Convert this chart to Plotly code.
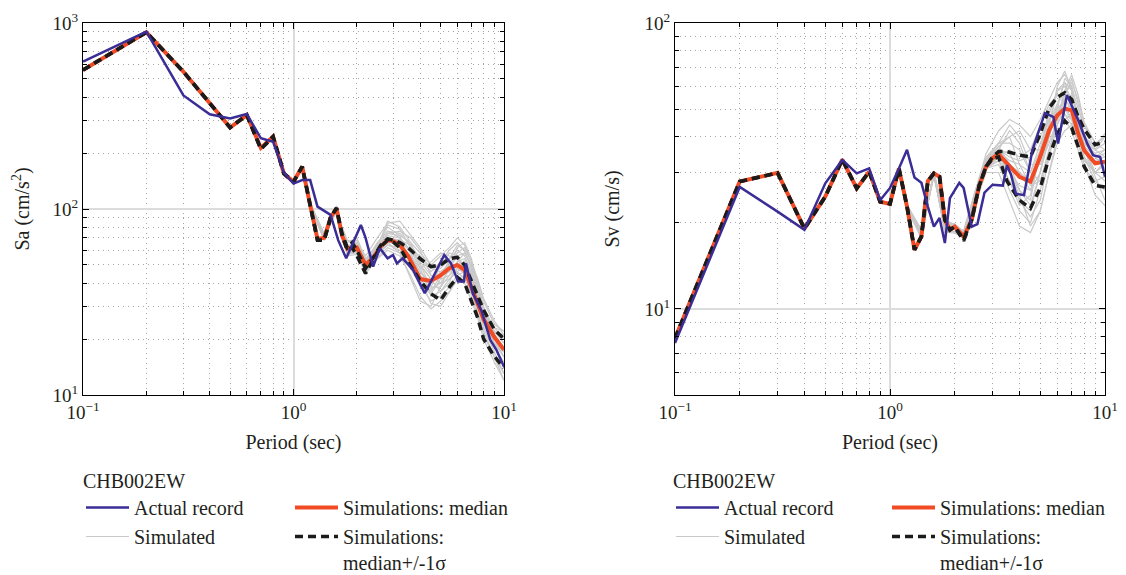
import plotly.graph_objects as go

FONT = "Liberation Serif"
TXT = "#231f20"

# ---------------- data ----------------
T = [0.1, 0.2, 0.3, 0.4, 0.5, 0.6, 0.7, 0.8, 0.9, 1.0, 1.1, 1.2, 1.3, 1.4, 1.5, 1.6, 1.7, 1.8, 1.9, 2.0,
     2.2, 2.4, 2.6, 2.8, 3.0, 3.2, 3.5, 4.0, 4.5, 5.0, 5.5, 6.0, 6.5, 7.0, 7.5, 8.0, 9.0, 10.0]

# Left panel: Sa (cm/s^2)
sa_median = [559, 891, 547, 369, 274, 320, 213, 245, 155, 140, 169, 105, 69, 70, 90, 101, 72, 61, 62, 62,
             50, 55, 63, 68, 67, 64, 56, 42, 41, 44, 48, 50, 47, 38, 30.5, 25.5, 20.5, 17.5]
sa_upper = [559, 891, 547, 369, 274, 320, 210, 245, 155, 140, 169, 105, 68, 68, 90, 101, 74, 62, 66, 60,
            48, 55, 64, 69, 68, 66, 62, 54, 49, 50, 54, 55, 50, 41, 34, 28.6, 22.5, 20]
sa_lower = [559, 891, 547, 369, 274, 320, 210, 245, 155, 140, 169, 105, 68, 68, 90, 101, 72, 60, 62, 56,
            45, 54, 63, 68, 66, 62, 52, 41, 35, 32.4, 38, 43, 40, 32, 26, 20, 16.1, 14]

T_rec_sa = [0.1, 0.2, 0.3, 0.4, 0.5, 0.6, 0.7, 0.8, 0.9, 1.0, 1.1, 1.2, 1.3, 1.5, 1.63, 1.78, 2.09, 2.2,
            2.39, 2.57, 2.8, 2.97, 3.1, 3.3, 3.7, 4.2, 4.45, 5.2, 5.6, 6.05, 6.45, 6.6, 7.1, 7.8, 8.6, 9.2, 10.0]
sa_record = [620, 898, 408, 323, 307, 324, 240, 230, 157, 137, 143, 143, 103, 93, 68, 54.3, 82, 70,
             49, 61.5, 54.3, 56.6, 51, 54.3, 47, 35.3, 39.8, 56.6, 51, 40.7, 40.7, 51, 35.3, 28.6, 19.8, 17.5, 14.2]

T_sim = [1.2, 1.4, 1.6, 1.8, 2.0, 2.2, 2.5, 2.8, 3.2, 3.6, 4.0, 4.5, 5.0, 5.5, 6.0, 6.5, 7.0, 7.5, 8.0, 9.0, 10.0]
sa_sim_01 = [106, 72, 98, 64, 64, 52, 66, 76, 74, 64, 54, 46, 52, 60, 66, 60, 48, 36, 27, 21, 18]
sa_sim_02 = [104, 69, 103, 58, 60, 47, 57, 64, 60, 48, 39, 32, 34, 38, 44, 46, 40, 31, 24, 18, 15]
sa_sim_03 = [107, 71, 100, 62, 66, 50, 62, 72, 70, 58, 44, 37, 40, 48, 56, 58, 50, 38, 29, 23, 20]
sa_sim_04 = [105, 70, 102, 59, 61, 48, 58, 66, 66, 60, 52, 44, 42, 44, 48, 45, 38, 30, 23, 17, 13]
sa_sim_05 = [108, 73, 97, 66, 70, 54, 64, 82, 78, 62, 50, 38, 38, 44, 52, 54, 44, 34, 27, 22, 21]
sa_sim_06 = [103, 68, 104, 57, 58, 46, 55, 62, 58, 50, 42, 36, 44, 52, 54, 50, 42, 33, 26, 20, 16]
sa_sim_07 = [105, 70, 99, 61, 63, 50, 61, 70, 68, 60, 56, 48, 46, 50, 58, 62, 52, 39, 29, 22, 19]
sa_sim_08 = [104, 71, 101, 60, 60, 48, 59, 68, 62, 52, 42, 31, 30, 36, 42, 44, 36, 28, 22, 16, 12]
sa_sim_09 = [107, 69, 100, 63, 65, 51, 63, 74, 72, 66, 58, 50, 48, 54, 60, 56, 46, 36, 28, 23, 22]
sa_sim_10 = [105, 72, 103, 58, 59, 47, 58, 67, 64, 54, 46, 40, 46, 50, 46, 42, 36, 30, 24, 19, 16]
sa_sim_11 = [104, 70, 98, 62, 68, 52, 62, 86, 80, 66, 50, 42, 44, 46, 50, 52, 46, 34, 25, 19, 17]
sa_sim_12 = [106, 71, 102, 59, 61, 49, 60, 70, 66, 56, 48, 34, 36, 42, 48, 52, 44, 32, 24, 20, 18]
sa_sim_13 = [106, 74, 96, 68, 66, 56, 70, 84, 86, 72, 62, 50, 56, 62, 70, 64, 52, 42, 32, 24, 22]
sa_sim_14 = [104, 68, 104, 56, 57, 45, 54, 60, 56, 44, 34, 29, 32, 36, 42, 40, 32, 26, 20, 15, 12]
sa_sim_15 = [107, 72, 99, 63, 64, 53, 65, 76, 70, 60, 48, 52, 58, 56, 54, 48, 40, 33, 27, 22, 19]
sa_sim_16 = [105, 70, 101, 60, 62, 49, 59, 66, 58, 42, 32, 30, 38, 48, 62, 66, 54, 40, 30, 21, 17]
sa_sim_17 = [106, 71, 100, 62, 63, 51, 61, 74, 76, 70, 60, 44, 40, 42, 46, 50, 44, 36, 28, 22, 20]
sa_sim_18 = [104, 69, 102, 59, 60, 48, 58, 64, 62, 56, 46, 38, 50, 58, 56, 46, 34, 27, 21, 16, 13]
sa_sim_19 = [105, 70, 100, 61, 61, 50, 60, 69, 68, 64, 50, 42, 36, 40, 52, 58, 50, 42, 33, 25, 21]
sa_sim_20 = [106, 72, 98, 63, 65, 52, 64, 80, 72, 50, 38, 35, 42, 54, 64, 60, 48, 35, 26, 19, 16]

# Right panel: Sv (cm/s)
sv_median = [7.9, 27.9, 29.9, 19.1, 24.7, 33.3, 26.4, 30.2, 23.7, 23.3, 31.0, 22.8, 16.1, 17.9, 28.0, 29.8,
             29.0, 20.5, 18.9, 19.4, 17.9, 20.5, 27.0, 31.5, 33.7, 34.8, 32.3, 29.0, 27.9, 34.1, 42.2, 47.6,
             50.2, 49.5, 41.1, 35.9, 32.3, 32.7]
sv_upper = [7.9, 27.9, 29.9, 19.1, 24.7, 33.3, 26.4, 30.2, 23.7, 23.3, 31.0, 22.8, 16.1, 17.9, 28.0, 29.8,
            29.0, 20.5, 18.9, 19.4, 17.5, 20.5, 27.0, 31.5, 34.0, 35.5, 35.5, 34.5, 34.0, 41.0, 50.5, 55.0,
            57.0, 54.0, 47.0, 42.5, 37.5, 38.4]
sv_lower = [7.9, 27.9, 29.9, 19.1, 24.7, 33.3, 26.4, 30.2, 23.7, 23.3, 31.0, 22.8, 16.1, 17.9, 28.0, 29.8,
            29.0, 20.5, 18.9, 19.4, 17.3, 20.5, 27.0, 31.5, 33.5, 34.0, 28.0, 24.0, 22.5, 26.5, 34.0, 41.0,
            45.5, 43.0, 37.0, 31.5, 27.0, 26.7]

T_rec_sv = [0.1, 0.2, 0.3, 0.4, 0.5, 0.6, 0.7, 0.8, 0.9, 1.0, 1.1, 1.2, 1.3, 1.4, 1.5, 1.6, 1.7, 1.8, 1.9,
            2.1, 2.2, 2.4, 2.55, 2.75, 3.0, 3.35, 3.5, 3.65, 3.85, 4.2, 4.6, 5.25, 5.75, 6.05, 6.65, 7.5,
            8.25, 8.8, 9.5, 10.0]
sv_record = [7.6, 26.7, 21.9, 18.9, 27.5, 33.2, 29.8, 31.0, 24.0, 26.5, 31.0, 36.0, 28.8, 27.6, 22.8, 19.4,
             20.8, 17.0, 24.4, 27.6, 26.5, 19.4, 19.8, 25.5, 27.2, 27.0, 31.8, 29.6, 25.3, 25.0, 36.0, 48.4,
             47.0, 37.9, 56.0, 45.8, 38.0, 34.5, 34.0, 29.0]

sv_sim_01 = [23, 19, 29, 19.5, 19, 18.5, 26, 34, 38, 38, 36, 30, 36, 48, 58, 60, 54, 42, 36, 33, 34]
sv_sim_02 = [22.5, 18, 30, 18.5, 19.5, 17.8, 24, 31, 32, 26, 22, 20, 26, 36, 44, 50, 52, 44, 37, 30, 28]
sv_sim_03 = [23, 18.6, 29.5, 20, 19, 18.4, 25.5, 33, 36, 34, 33, 34, 40, 46, 50, 50, 46, 38, 33, 30, 32]
sv_sim_04 = [22.6, 18.2, 30.2, 18.6, 18.6, 17.6, 24.5, 31.5, 33, 28, 24, 22, 30, 40, 52, 62, 58, 46, 38, 34, 36]
sv_sim_05 = [23.2, 18.8, 29.2, 19.2, 19.4, 18.8, 26, 33, 38, 44, 40, 32, 32, 38, 46, 54, 56, 48, 40, 36, 38]
sv_sim_06 = [22.4, 18, 30, 18.6, 18.4, 17.8, 24, 31, 33, 30, 26, 24, 36, 50, 56, 52, 46, 38, 33, 30, 30]
sv_sim_07 = [22.8, 18.4, 29.8, 19, 19.2, 18.2, 25, 32.5, 35, 32, 30, 28, 33, 42, 48, 56, 64, 52, 41, 34, 31]
sv_sim_08 = [23, 18.5, 29.6, 19.4, 19.8, 18.6, 25.5, 32, 34, 30, 25, 19.5, 22, 30, 40, 46, 48, 42, 36, 29, 24]
sv_sim_09 = [22.6, 18.2, 30, 18.8, 18.6, 18, 24.8, 33, 37, 40, 42, 36, 36, 44, 60, 68, 58, 44, 38, 36, 40]
sv_sim_10 = [22.9, 18.6, 29.4, 19, 19, 18.2, 25.2, 32, 34, 30, 27, 26, 34, 44, 48, 46, 42, 36, 31, 28, 29]
sv_sim_11 = [22.7, 18.3, 30.1, 18.8, 18.7, 17.9, 24.6, 32.4, 36, 35, 30, 26, 30, 40, 50, 54, 50, 40, 34, 30, 33]
sv_sim_12 = [23.1, 18.5, 29.9, 19.1, 19.1, 18.3, 25.4, 32.8, 35.5, 33, 32, 30, 38, 46, 52, 48, 44, 40, 37, 34, 35]
sv_sim_13 = [23, 18.4, 29.6, 20.2, 19.8, 18.6, 26, 35, 42, 46, 44, 40, 46, 54, 62, 66, 60, 50, 44, 38, 40]
sv_sim_14 = [22.5, 17.6, 30, 20.6, 19, 17.6, 23.5, 30, 30, 24, 19.5, 18.5, 22, 30, 38, 42, 44, 38, 32, 25, 23]
sv_sim_15 = [22.8, 18, 29.8, 20.4, 19.6, 18, 24.5, 32, 36, 42, 38, 30, 28, 34, 44, 56, 62, 54, 44, 36, 34]
sv_sim_16 = [23, 18.2, 29.5, 20.8, 19.2, 18.2, 25, 33, 35, 30, 24, 21, 24, 34, 50, 64, 60, 46, 36, 30, 30]
sv_sim_17 = [22.6, 17.8, 30.2, 20.4, 19.4, 17.8, 24.2, 31, 34, 36, 34, 36, 44, 52, 56, 54, 50, 42, 38, 35, 36]
sv_sim_18 = [22.9, 18.1, 29.7, 20.6, 19.5, 18.1, 24.8, 32.5, 37, 32, 26, 23, 30, 44, 58, 62, 52, 40, 34, 28, 26]
sv_sim_19 = [22.7, 17.9, 30, 20.2, 19.3, 17.9, 24, 31.5, 33, 28, 23, 25, 36, 46, 50, 48, 46, 44, 40, 37, 41]
sv_sim_20 = [23.1, 18.3, 29.9, 20.5, 19.6, 18.4, 25.6, 33.5, 38, 40, 32, 27, 28, 36, 46, 58, 66, 56, 45, 38, 36]

x_tickvals = [0.1, 1, 10]
x_ticktext = ["10<sup>\u22121</sup>", "10<sup>0</sup>", "10<sup>1</sup>"]
x_minor = [0.2, 0.3, 0.4, 0.5, 0.6, 0.7, 0.8, 0.9, 2, 3, 4, 5, 6, 7, 8, 9]
sa_tickvals = [10, 100, 1000]
sa_ticktext = ["10<sup>1</sup>", "10<sup>2</sup>", "10<sup>3</sup>"]
sa_minor = [20, 30, 40, 50, 60, 70, 80, 90, 200, 300, 400, 500, 600, 700, 800, 900]
sv_tickvals = [10, 100]
sv_ticktext = ["10<sup>1</sup>", "10<sup>2</sup>"]
sv_minor = [6, 7, 8, 9, 20, 30, 40, 50, 60, 70, 80, 90]

legend_title = "CHB002EW"
name_record = "Actual record"
name_sim = "Simulated"
name_median = "Simulations: median"
name_sigma = "Simulations:<br>median+/-1\u03c3"

sa_sims = [sa_sim_01, sa_sim_02, sa_sim_03, sa_sim_04, sa_sim_05, sa_sim_06, sa_sim_07,
           sa_sim_08, sa_sim_09, sa_sim_10, sa_sim_11, sa_sim_12, sa_sim_13, sa_sim_14,
           sa_sim_15, sa_sim_16, sa_sim_17, sa_sim_18, sa_sim_19, sa_sim_20]
sv_sims = [sv_sim_01, sv_sim_02, sv_sim_03, sv_sim_04, sv_sim_05, sv_sim_06, sv_sim_07,
           sv_sim_08, sv_sim_09, sv_sim_10, sv_sim_11, sv_sim_12, sv_sim_13, sv_sim_14,
           sv_sim_15, sv_sim_16, sv_sim_17, sv_sim_18, sv_sim_19, sv_sim_20]

# ---------------- figure ----------------
fig = go.Figure()

BLUE = "#3a2d96"
RED = "#f04b25"
BLACK = "#1b1b1b"
GRAY = "#c9c9c9"


def add_panel(xa, ya, leg_a, leg_b, sims, med, up, lo, t_rec, rec):
    for i, s in enumerate(sims):
        fig.add_trace(go.Scatter(x=T_sim, y=s, mode="lines", line=dict(color=GRAY, width=1.2),
                                 name=name_sim, legend=leg_a, legendgroup=leg_a + "sim",
                                 showlegend=(i == 0), legendrank=2, xaxis=xa, yaxis=ya,
                                 hoverinfo="skip"))
    fig.add_trace(go.Scatter(x=T, y=med, mode="lines", line=dict(color=RED, width=4),
                             name=name_median, legend=leg_b, legendrank=1, xaxis=xa, yaxis=ya))
    fig.add_trace(go.Scatter(x=T, y=up, mode="lines", line=dict(color=BLACK, width=3.5, dash="8px,5px"),
                             name=name_sigma, legend=leg_b, legendgroup=leg_b + "sig", legendrank=2,
                             xaxis=xa, yaxis=ya))
    fig.add_trace(go.Scatter(x=T, y=lo, mode="lines", line=dict(color=BLACK, width=3.5, dash="8px,5px"),
                             name=name_sigma, legend=leg_b, legendgroup=leg_b + "sig", showlegend=False,
                             xaxis=xa, yaxis=ya))
    fig.add_trace(go.Scatter(x=t_rec, y=rec, mode="lines", line=dict(color=BLUE, width=2.5),
                             name=name_record, legend=leg_a, legendrank=1, xaxis=xa, yaxis=ya))


add_panel("x", "y", "legend", "legend2", sa_sims, sa_median, sa_upper, sa_lower, T_rec_sa, sa_record)
add_panel("x2", "y2", "legend3", "legend4", sv_sims, sv_median, sv_upper, sv_lower, T_rec_sv, sv_record)

tickfont = dict(family=FONT, size=19, color=TXT)
titlefont = dict(family=FONT, size=20, color=TXT)
legfont = dict(family=FONT, size=20, color=TXT)


def axis_common(tickvals, ticktext, minor_vals):
    return dict(
        type="log", tickmode="array", tickvals=tickvals, ticktext=ticktext,
        ticks="inside", ticklen=6, tickwidth=1, tickcolor="black",
        showline=True, linecolor="black", linewidth=1, mirror="ticks",
        showgrid=True, gridcolor="#dcdcdc", gridwidth=1.5,
        zeroline=False, tickfont=tickfont, automargin=False,
        minor=dict(tickmode="array", tickvals=minor_vals, ticks="inside", ticklen=4,
                   tickcolor="black", tickwidth=1, showgrid=True, gridcolor="#a6a6a6",
                   griddash="1px,4px", gridwidth=1),
    )


xd1 = [83 / 1126, 504 / 1126]
xd2 = [675 / 1126, 1105 / 1126]
yd = [(575 - 395) / 575, (575 - 23) / 575]

fig.update_layout(
    width=1126, height=575,
    margin=dict(l=0, r=0, t=0, b=0, pad=0, autoexpand=False),
    paper_bgcolor="white", plot_bgcolor="white",
    font=dict(family=FONT, color=TXT),
    xaxis=dict(axis_common(x_tickvals, x_ticktext, x_minor), domain=xd1, range=[-1, 1], anchor="y",
               title=dict(text="Period (sec)", font=titlefont, standoff=13)),
    yaxis=dict(axis_common(sa_tickvals, sa_ticktext, sa_minor), domain=yd, range=[1, 3], anchor="x",
               title=dict(text="Sa (cm/s<sup>2</sup>)", font=titlefont, standoff=17)),
    xaxis2=dict(axis_common(x_tickvals, x_ticktext, x_minor), domain=xd2, range=[-1, 1], anchor="y2",
                title=dict(text="Period (sec)", font=titlefont, standoff=13)),
    yaxis2=dict(axis_common(sv_tickvals, sv_ticktext, sv_minor), domain=yd, range=[0.699, 2], anchor="x2",
                title=dict(text="Sv (cm/s)", font=titlefont, standoff=19)),
    legend=dict(x=81 / 1126, y=(575 - 462) / 575, xanchor="left", yanchor="top", itemwidth=43,
                title=dict(text=legend_title, font=legfont),
                font=legfont, tracegroupgap=0, bgcolor="rgba(0,0,0,0)"),
    legend2=dict(x=290 / 1126, y=(575 - 488) / 575, xanchor="left", yanchor="top", valign="top",
                 itemwidth=43, font=legfont, tracegroupgap=0, bgcolor="rgba(0,0,0,0)"),
    legend3=dict(x=671 / 1126, y=(575 - 462) / 575, xanchor="left", yanchor="top", itemwidth=43,
                 title=dict(text=legend_title, font=legfont),
                 font=legfont, tracegroupgap=0, bgcolor="rgba(0,0,0,0)"),
    legend4=dict(x=887 / 1126, y=(575 - 488) / 575, xanchor="left", yanchor="top", valign="top",
                 itemwidth=43, font=legfont, tracegroupgap=0, bgcolor="rgba(0,0,0,0)"),
)

fig.write_html("out.html", config={"displayModeBar": False},
               post_script="document.body.style.margin='0';")
